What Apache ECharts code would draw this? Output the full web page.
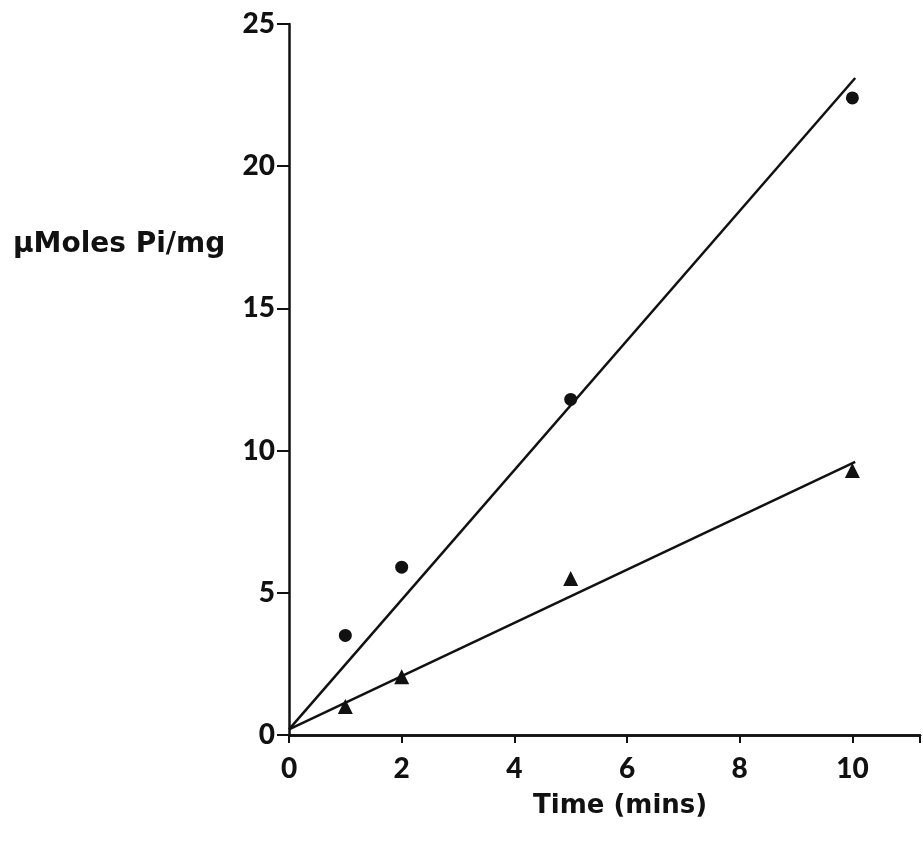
<!DOCTYPE html>
<html>
<head>
<meta charset="utf-8">
<title>Pi release over time</title>
<script src="https://cdn.jsdelivr.net/npm/echarts@6/dist/echarts.min.js"></script>
<style>
  html, body { margin: 0; padding: 0; background: #fff; }
  #chart { width: 923px; height: 852px; }
</style>
</head>
<body>
<div id="chart"></div>
<script>
// Measured points: time (min) and µmoles Pi per mg
const timesMin = [1, 2, 5, 10];
const circleValues = [3.5, 5.9, 11.8, 22.4];
const triangleValues = [1.0, 2.05, 5.5, 9.3];

// Fitted straight lines: [time, value] at each end
const circleFitTimes = [0, 10.05];
const circleFitValues = [0.2, 23.1];
const triangleFitTimes = [0, 10.05];
const triangleFitValues = [0.2, 9.6];

const xTicks = [0, 2, 4, 6, 8, 10];
const yTicks = [0, 5, 10, 15, 20, 25];

const yLabel = 'µMoles Pi/mg';
const xLabel = 'Time (mins)';

const NUM_FONT = 'Lato, "DejaVu Sans", sans-serif';
const NAME_FONT = '"DejaVu Sans", sans-serif';
const INK = '#111';

const zip = (xs, ys) => xs.map((x, i) => [x, ys[i]]);

const chart = echarts.init(document.getElementById('chart'), null, { renderer: 'canvas' });

chart.setOption({
  backgroundColor: '#fff',
  animation: false,
  title: [
    {
      text: yLabel, left: 8, top: 226,
      textStyle: { fontFamily: NAME_FONT, fontSize: 28, fontWeight: 'bold', color: INK }
    },
    {
      text: xLabel, left: 528, top: 788,
      textStyle: { fontFamily: NAME_FONT, fontSize: 26, fontWeight: 'bold', color: INK }
    }
  ],
  grid: { left: 289, right: 0, top: 24, bottom: 117, containLabel: false },
  xAxis: [
    {
      type: 'value', min: 0, max: 11.2, interval: 2,
      axisLine: { show: true, onZero: false, lineStyle: { color: INK, width: 2.5 } },
      axisTick: { show: true, length: 8, lineStyle: { color: INK, width: 2 } },
      axisLabel: {
        margin: 20, fontFamily: NUM_FONT, fontSize: 28, fontWeight: 900, color: INK,
        formatter: v => (xTicks.includes(v) ? String(v) : '')
      },
      splitLine: { show: false }
    },
    {
      // top frame line
      type: 'value', position: 'top', min: 0, max: 11.2,
      axisLine: { show: true, lineStyle: { color: INK, width: 2.5 } },
      axisTick: { show: false }, axisLabel: { show: false }, splitLine: { show: false }
    }
  ],
  yAxis: {
    type: 'value', min: 0, max: 25, interval: 5,
    axisLine: { show: true, onZero: false, lineStyle: { color: INK, width: 2.5 } },
    axisTick: { show: true, length: 12, lineStyle: { color: INK, width: 2 } },
    axisLabel: {
      margin: 14, fontFamily: NUM_FONT, fontSize: 28, fontWeight: 900, color: INK,
      formatter: v => (yTicks.includes(v) ? String(v) : '')
    },
    splitLine: { show: false }
  },
  series: [
    {
      name: 'circle fit', type: 'line', data: zip(circleFitTimes, circleFitValues),
      showSymbol: false, lineStyle: { color: INK, width: 2.5 }, z: 2
    },
    {
      name: 'triangle fit', type: 'line', data: zip(triangleFitTimes, triangleFitValues),
      showSymbol: false, lineStyle: { color: INK, width: 2.5 }, z: 2
    },
    {
      name: 'circles', type: 'scatter', data: zip(timesMin, circleValues),
      symbol: 'circle', symbolSize: 13, itemStyle: { color: INK, opacity: 1 }, z: 3
    },
    {
      name: 'triangles', type: 'scatter', data: zip(timesMin, triangleValues),
      symbol: 'triangle', symbolSize: 15, itemStyle: { color: INK, opacity: 1 }, z: 3
    }
  ]
});
</script>
</body>
</html>
